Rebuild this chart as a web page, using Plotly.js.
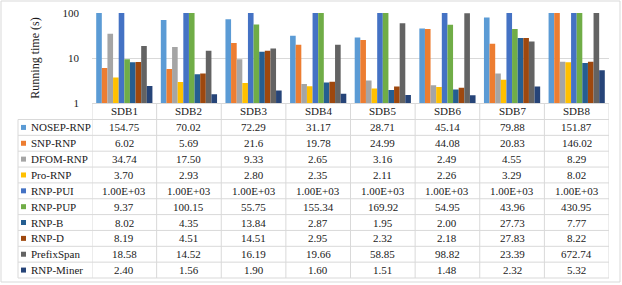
<!DOCTYPE html>
<html><head><meta charset="utf-8">
<script src="https://cdn.plot.ly/plotly-3.0.1.min.js"></script>
<style>html,body{margin:0;padding:0;background:#fff}</style>
</head><body><div id="chart" style="width:622px;height:285px"></div>
<script>
// ---- data ----
const categories = ['SDB1','SDB2','SDB3','SDB4','SDB5','SDB6','SDB7','SDB8'];
const seriesNames = ['NOSEP-RNP','SNP-RNP','DFOM-RNP','Pro-RNP','RNP-PUI','RNP-PUP','RNP-B','RNP-D','PrefixSpan','RNP-Miner'];
const nosepRnp   = ['154.75','70.02','72.29','31.17','28.71','45.14','79.88','151.87'];
const snpRnp     = ['6.02','5.69','21.6','19.78','24.99','44.08','20.83','146.02'];
const dfomRnp    = ['34.74','17.50','9.33','2.65','3.16','2.49','4.55','8.29'];
const proRnp     = ['3.70','2.93','2.80','2.35','2.11','2.26','3.29','8.02'];
const rnpPui     = ['1.00E+03','1.00E+03','1.00E+03','1.00E+03','1.00E+03','1.00E+03','1.00E+03','1.00E+03'];
const rnpPup     = ['9.37','100.15','55.75','155.34','169.92','54.95','43.96','430.95'];
const rnpB       = ['8.02','4.35','13.84','2.87','1.95','2.00','27.73','7.77'];
const rnpD       = ['8.19','4.51','14.51','2.95','2.32','2.18','27.83','8.22'];
const prefixSpan = ['18.58','14.52','16.19','19.66','58.85','98.82','23.39','672.74'];
const rnpMiner   = ['2.40','1.56','1.90','1.60','1.51','1.48','2.32','5.32'];
const yTicks = [1, 10, 100];
const yTitle = 'Running time (s)';

const seriesValues = [nosepRnp, snpRnp, dfomRnp, proRnp, rnpPui, rnpPup, rnpB, rnpD, prefixSpan, rnpMiner];
const colors = ['#5B9BD5','#ED7D31','#A5A5A5','#FFC000','#4472C4','#70AD47','#255E91','#9E480E','#636363','#264478'];

// ---- geometry (pixels) ----
const W = 622, H = 285;
const px = x => x / W;
const py = y => 1 - y / H;
const plotLeft = 92, plotRight = 609, plotTop = 13, axisY = 103;
const headerBottom = 119.5, rowH = 15.85, labelLeft = 18;
const font = 'Liberation Serif, Times New Roman, serif';
const textColor = '#1a1a1a';
const lineColor = '#d9d9d9';

const traces = seriesNames.map((name, i) => ({
  type: 'bar', name: name, x: categories, y: seriesValues[i].map(Number),
  marker: {color: colors[i], line: {width: 0}}, hoverinfo: 'x+y+name'
}));

const annotations = [];
const shapes = [];
const nRows = seriesNames.length;
// row lines
for (let r = 0; r <= nRows; r++) {
  const y = headerBottom + r * rowH;
  shapes.push({type:'line', xref:'paper', yref:'paper', x0: px(labelLeft), x1: px(plotRight), y0: py(y), y1: py(y), line:{color: lineColor, width: 1}});
}
// column lines
for (let c = 0; c <= categories.length; c++) {
  shapes.push({type:'line', xref:'x', yref:'paper', x0: c - 0.5, x1: c - 0.5, y0: py(axisY), y1: py(headerBottom + nRows * rowH), line:{color: lineColor, width: 1}});
}
shapes.push({type:'line', xref:'paper', yref:'paper', x0: px(labelLeft), x1: px(labelLeft), y0: py(headerBottom), y1: py(headerBottom + nRows * rowH), line:{color: lineColor, width: 1}});
// outer border
shapes.push({type:'rect', xref:'paper', yref:'paper', x0: px(1), x1: px(620), y0: py(1), y1: py(282), line:{color: lineColor, width: 1}});

seriesNames.forEach((name, r) => {
  const yc = headerBottom + (r + 0.5) * rowH;
  shapes.push({type:'rect', xref:'paper', yref:'paper', x0: px(21), x1: px(26), y0: py(yc - 2.5), y1: py(yc + 2.5), fillcolor: colors[r], line:{width: 0}});
  annotations.push({xref:'paper', yref:'paper', x: px(29), y: py(yc), xanchor:'left', yanchor:'middle', showarrow:false, text: name, font:{family: font, size: 11, color: textColor}});
  seriesValues[r].forEach((v, c) => {
    annotations.push({xref:'x', yref:'paper', x: c, y: py(yc), xanchor:'center', yanchor:'middle', showarrow:false, text: v, font:{family: font, size: 11, color: textColor}});
  });
});
// header labels
categories.forEach((cat, c) => {
  annotations.push({xref:'x', yref:'paper', x: c, y: py((axisY + headerBottom) / 2), xanchor:'center', yanchor:'middle', showarrow:false, text: cat, font:{family: font, size: 11, color: textColor}});
});

const layout = {
  width: W, height: H, autosize: false,
  margin: {l:0, r:0, t:0, b:0, pad:0},
  paper_bgcolor: '#fff', plot_bgcolor: '#fff',
  showlegend: false,
  barmode: 'group', bargap: 0.13, bargroupgap: 0,
  font: {family: font, size: 11, color: textColor},
  xaxis: {domain: [px(plotLeft), px(plotRight)], range: [-0.5, categories.length - 0.5], type: 'category',
          showticklabels: false, showgrid: false, zeroline: false, showline: true, linecolor: lineColor, linewidth: 1, ticks: ''},
  yaxis: {type: 'log', domain: [py(axisY), py(plotTop)], range: [0, 2], tickmode: 'array', tickvals: yTicks, ticktext: yTicks.map(String),
          showgrid: true, gridcolor: lineColor, gridwidth: 1, zeroline: false, showline: false, ticks: '',
          ticklabelstandoff: 12, tickfont: {family: font, size: 11, color: textColor},
          title: {text: yTitle, font: {family: font, size: 12, color: textColor}, standoff: 20}},
  shapes: shapes, annotations: annotations
};
Plotly.newPlot('chart', traces, layout, {displayModeBar: false, staticPlot: true});
</script></body></html>
